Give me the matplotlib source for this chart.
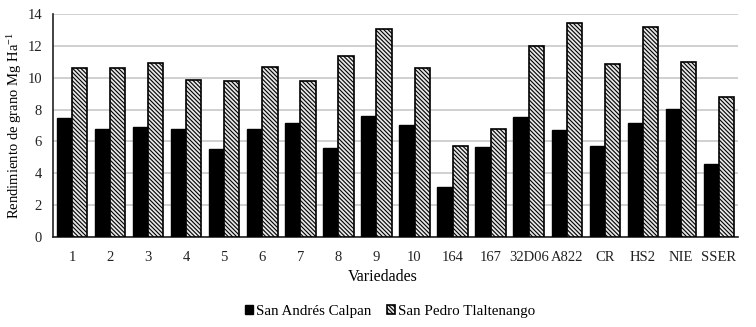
import numpy as np
import matplotlib
matplotlib.use("Agg")
import matplotlib.pyplot as plt

plt.rcParams['font.family'] = ['Liberation Serif', 'DejaVu Serif']
plt.rcParams['hatch.linewidth'] = 0.8
plt.rcParams['mathtext.default'] = 'regular'

# data
variedades = ['1', '2', '3', '4', '5', '6', '7', '8', '9', '10', '164', '167',
              '32D06', 'A822', 'CR', 'HS2', 'NIE', 'SSER']
calpan = [7.5, 6.75, 6.9, 6.8, 5.55, 6.75, 7.18, 5.6, 7.62, 7.03, 3.14, 5.65,
          7.51, 6.74, 5.71, 7.14, 8.02, 4.58]
tlaltenango = [10.6, 10.6, 10.9, 9.85, 9.8, 10.7, 9.82, 11.36, 13.04, 10.63, 5.73, 6.76,
               12.0, 13.45, 10.88, 13.18, 11.0, 8.8]

fig = plt.figure(figsize=(7.56, 3.27), dpi=100)
ax = fig.add_axes([53 / 756, 1 - 237 / 327, 685 / 756, 223 / 327])

x = np.arange(len(variedades))
w = 0.4
ax.bar(x - w / 2, calpan, w, color='black', edgecolor='black', linewidth=1,
       label='San Andrés Calpan', zorder=3)
ax.bar(x + w / 2, tlaltenango, w, color='#e6e6e6', edgecolor='black', linewidth=1.2,
       hatch='\\\\\\\\\\\\\\\\', label='San Pedro Tlaltenango', zorder=3)

ax.set_xlim(-0.5, len(variedades) - 0.5)
ax.set_ylim(0, 14)
ax.set_yticks(range(0, 15, 2))
ax.set_xticks(x)
ax.set_xticklabels(variedades)
ax.tick_params(axis='both', length=0, labelsize=10.5, colors='#222222')
ax.tick_params(axis='x', pad=10)
ax.tick_params(axis='y', pad=8)
ax.yaxis.grid(True, color='#c8c8c8', linewidth=1.2, zorder=0)
for s in ['top', 'right']:
    ax.spines[s].set_visible(False)
ax.spines['left'].set_color('#222222')
ax.spines['bottom'].set_color('#222222')
ax.spines['left'].set_linewidth(1.2)
ax.spines['bottom'].set_linewidth(1.2)

ax.set_xlabel('Variedades', fontsize=11.5)
ax.xaxis.set_label_coords(0.482, -0.145)
ax.set_ylabel('Rendimiento de grano Mg Ha$^{-1}$', fontsize=10.5)
ax.yaxis.set_label_coords(-0.043, 0.5)

ax.legend(loc='upper center', bbox_to_anchor=(0.492, -0.245), ncol=2, frameon=False,
          fontsize=10.8, handlelength=0.55, handleheight=0.55, handletextpad=0.2,
          columnspacing=1.0)

fig.savefig('out.png', dpi=100)
